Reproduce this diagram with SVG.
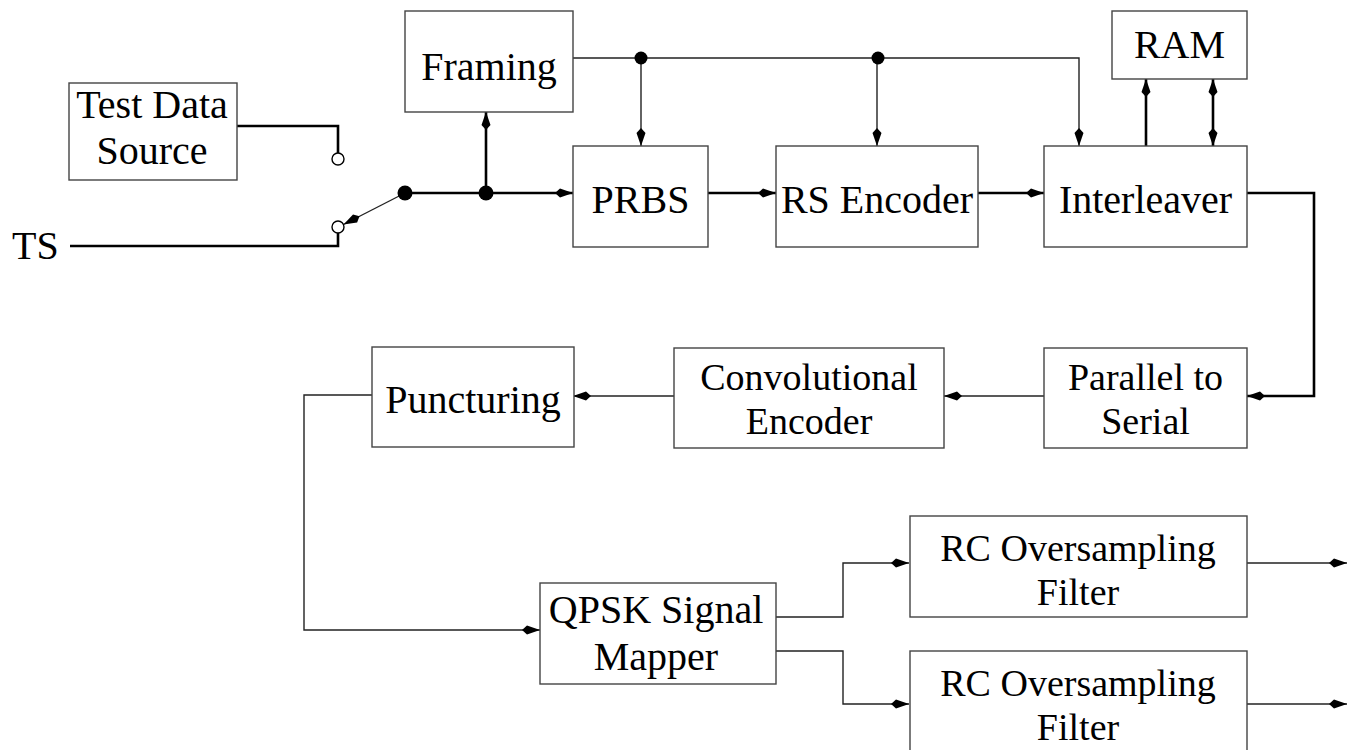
<svg xmlns="http://www.w3.org/2000/svg" width="1353" height="750" viewBox="0 0 1353 750">
<style>
.box{fill:#fff;stroke:#444;stroke-width:1.4}
.t{font-family:"Liberation Serif","Times New Roman",serif;font-size:40px;fill:#000;text-anchor:middle}
.t2{font-family:"Liberation Serif","Times New Roman",serif;font-size:38px;fill:#000;text-anchor:middle}
.thin{fill:none;stroke:#222;stroke-width:1.4}
.bold{fill:none;stroke:#000;stroke-width:2.6}
.arr{marker-end:url(#ah)}
.dot{fill:#000}
.oc{fill:#fff;stroke:#000;stroke-width:1.4}
</style>
<defs>
<marker id="ah" markerUnits="userSpaceOnUse" markerWidth="24" markerHeight="14" refX="20" refY="7" orient="auto-start-reverse" viewBox="0 0 24 14">
<path d="M20,7 L7,2.5 L2,7 L7,11.5 Z" fill="#000"/>
</marker>
</defs>
<rect width="1353" height="750" fill="#fff"/>
<g id="connectors">
<path class="bold" d="M237,126 H338 V153"/>
<path class="bold" d="M70,246 H338 V233"/>
<path class="thin" d="M405,193 L343.5,224.5" marker-end="url(#ah)"/>
<path class="bold arr" d="M405,193 H573"/>
<path class="bold arr" d="M486,193 V112"/>
<path class="thin arr" d="M573,58 H1079 V146"/>
<path class="thin arr" d="M641,58 V146"/>
<path class="thin arr" d="M877,58 V146"/>
<path class="bold arr" d="M708,193 H776"/>
<path class="bold arr" d="M978,193 H1044"/>
<path class="bold arr" d="M1146,146 V79"/>
<path class="bold arr" d="M1213,146 V79" marker-start="url(#ah)"/>
<path class="bold arr" d="M1247,193 H1314 V396 H1247"/>
<path class="thin arr" d="M1044,396 H944"/>
<path class="thin arr" d="M674,396 H573"/>
<path class="thin arr" d="M372,395 H304 V630 H540"/>
<path class="thin arr" d="M776,617 H843 V563 H909"/>
<path class="thin arr" d="M776,651 H843 V704 H909"/>
<path class="thin arr" d="M1247,563 H1347"/>
<path class="thin arr" d="M1247,704 H1347"/>
<circle class="oc" cx="338" cy="159" r="6"/>
<circle class="oc" cx="338" cy="227" r="6"/>
<circle class="dot" cx="405" cy="193" r="7.5"/>
<circle class="dot" cx="486" cy="193" r="7.5"/>
<circle class="dot" cx="641" cy="58" r="6.5"/>
<circle class="dot" cx="878" cy="58" r="6.5"/>
</g>
<g id="tds"><rect class="box" x="69" y="83" width="168" height="97"/><text class="t" x="152" y="118">Test Data</text><text class="t" x="152" y="164">Source</text></g>
<g id="ts"><text class="t" x="12" y="259" style="text-anchor:start">TS</text></g>
<g id="framing"><rect class="box" x="405" y="11" width="168" height="101"/><text class="t" x="489" y="80">Framing</text></g>
<g id="prbs"><rect class="box" x="573" y="146" width="135" height="101"/><text class="t" x="640.5" y="213">PRBS</text></g>
<g id="rs"><rect class="box" x="776" y="146" width="202" height="101"/><text class="t" x="877" y="213">RS Encoder</text></g>
<g id="interleaver"><rect class="box" x="1044" y="146" width="203" height="101"/><text class="t" x="1145.5" y="213">Interleaver</text></g>
<g id="ram"><rect class="box" x="1112" y="11" width="135" height="68"/><text class="t" x="1179.5" y="58">RAM</text></g>
<g id="p2s"><rect class="box" x="1044" y="348" width="203" height="100"/><text class="t2" x="1145.5" y="390">Parallel to</text><text class="t2" x="1145.5" y="434">Serial</text></g>
<g id="conv"><rect class="box" x="674" y="348" width="270" height="100"/><text class="t2" x="809" y="390">Convolutional</text><text class="t2" x="809" y="434">Encoder</text></g>
<g id="punct"><rect class="box" x="372" y="347" width="202" height="100"/><text class="t" x="473" y="413">Puncturing</text></g>
<g id="qpsk"><rect class="box" x="540" y="583" width="236" height="101"/><text class="t" x="656" y="623">QPSK Signal</text><text class="t" x="656" y="670">Mapper</text></g>
<g id="rc1"><rect class="box" x="910" y="516" width="337" height="101"/><text class="t2" x="1078" y="561">RC Oversampling</text><text class="t2" x="1078" y="605">Filter</text></g>
<g id="rc2"><rect class="box" x="910" y="651" width="337" height="110"/><text class="t2" x="1078" y="696">RC Oversampling</text><text class="t2" x="1078" y="740">Filter</text></g>
</svg>
